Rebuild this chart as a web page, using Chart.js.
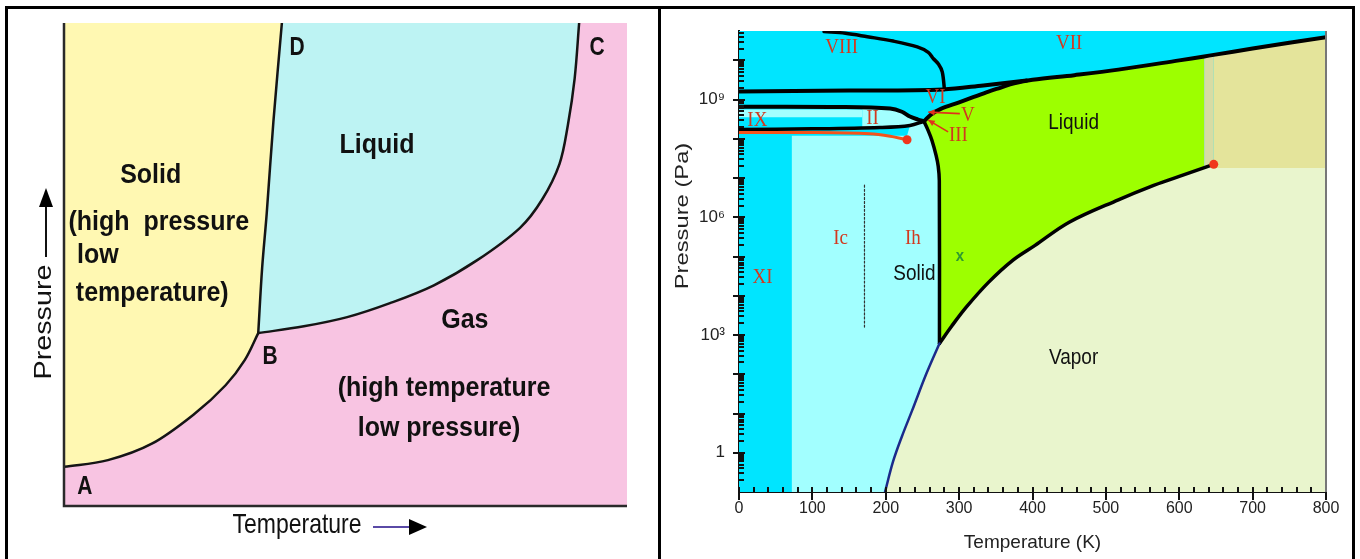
<!DOCTYPE html>
<html>
<head>
<meta charset="utf-8">
<script src="https://cdn.jsdelivr.net/npm/chart.js@4.4.1/dist/chart.umd.min.js"></script>
<style>
  body { margin: 0; background: #fff; }
  #wrap { position: relative; width: 1360px; height: 559px; overflow: hidden; background: #fff; }
  canvas { position: absolute; top: 0; }
  .ln { position: absolute; background: #000; }
</style>
</head>
<body>
<div id="wrap">
  <canvas id="left" width="658" height="559" style="left:0"></canvas>
  <canvas id="right" width="691" height="559" style="left:661px"></canvas>
  <div class="ln" style="left:5px;top:6px;width:1350px;height:3px"></div>
  <div class="ln" style="left:5px;top:6px;width:3px;height:553px"></div>
  <div class="ln" style="left:658px;top:6px;width:3px;height:553px"></div>
  <div class="ln" style="left:1352px;top:6px;width:3px;height:553px"></div>
</div>
<script>
/* ---- panel 1: generic diagram, schematic units 0..100 ---- */
const curveAB = [[0, 8.1], [7.8, 9.5], [15.6, 12.9], [23.3, 19.2], [28.7, 25.0], [32.1, 30.2], [34.5, 35.8]];
const curveBC = [[34.5, 35.8], [42.6, 37.2], [50.3, 39.1], [57.9, 42.0], [65.7, 45.7], [73.4, 50.9], [81.0, 57.6], [84.9, 63.4], [88.0, 70.8], [89.5, 78.9], [90.7, 88.5], [91.5, 100]];
const curveBD = [[34.5, 35.8], [35.2, 49.4], [36.0, 60.5], [37.2, 79.7], [38.7, 100]];
const leftTexts = [
    ['Solid', 15.4, 68.5, 'center'],
    ['(high  pressure', 0.8, 58.8, 'left'],
    ['low', 2.3, 52.0, 'left'],
    ['temperature)', 2.1, 44.1, 'left'],
    ['Liquid', 55.6, 74.7, 'center'],
    ['Gas', 71.2, 38.5, 'center'],
    ['(high temperature', 67.5, 24.4, 'center'],
    ['low pressure)', 66.6, 16.1, 'center']
];
const pointLetters = [['A', 3.7, 3.9], ['B', 36.6, 30.8], ['C', 94.7, 94.8], ['D', 41.4, 94.8]];

/* ---- panel 2: water, T in K, P in Pa ---- */
const xTicks = [0, 100, 200, 300, 400, 500, 600, 700, 800];
const yDecades = [1, 1e1, 1e2, 1e3, 1e4, 1e5, 1e6, 1e7, 1e8, 1e9, 1e10];
const yTickValues = [1, 1e3, 1e6, 1e9];
const yTickLabels = ['1', '10³', '10⁶', '10⁹'];

const sublimation = [[199, 0.1], [210, 0.6], [222, 2.6], [236, 12], [255, 100], [273.2, 611]];
const vaporization = [[273.2, 611], [290, 1.7e3], [310, 5.2e3], [340, 2.2e4], [373, 8e4], [403, 1.9e5], [450, 7.5e5], [517, 2.8e6], [560, 6e6], [600, 1.1e7], [647, 2.24e7]];
const meltingIh = [[273.2, 611], [273, 8.7e6], [271.5, 2.0e7], [268.6, 3.8e7], [263, 9.1e7], [258, 1.6e8], [252, 2.8e8]];
const meltingHigh = [[252, 2.8e8], [262, 4.2e8], [275, 5.8e8], [300, 8.5e8], [320, 1.17e9], [340, 1.6e9], [356, 2.0e9], [375, 2.6e9], [400, 3.2e9], [457, 4.2e9], [517, 5.8e9], [600, 1.0e10], [634, 1.26e10], [647, 1.38e10], [700, 2.0e10], [800, 3.9e10]];
const lineIhII = [[0, 1.74e8], [100, 1.8e8], [192, 1.95e8], [233, 2.2e8], [252, 2.8e8]];
const lineIIVI = [[0, 6.6e8], [140, 6.5e8], [206, 5.9e8], [222, 4.9e8], [233, 3.7e8], [244, 3.1e8], [252, 2.8e8]];
const lineVIVII = [[0, 1.62e9], [150, 1.7e9], [278, 1.82e9], [333, 2.3e9], [392, 3.05e9]];
const lineVIII = [[116, 5.4e10], [145, 4.9e10], [175, 4.0e10], [210, 3.1e10], [243, 2.2e10], [258, 1.6e10], [265, 1.1e10], [272, 8e9], [277, 5.1e9], [280, 1.8e9]];
const lineOrange = [[0, 1.45e8], [100, 1.45e8], [178, 1.35e8], [206, 1.17e8], [229, 9.5e7]];
const lineIcIh = [[171, 6.6e6], [171, 1.6e3]];
const criticalPoint = [647, 2.24e7];
const orangeEnd = [229, 9.5e7];

const regionBase = [[0, 0.05], [800, 0.05], [800, 1e12], [0, 1e12]];
const regionIh = [[72, 0.05], [72, 1.2e8], [229, 1.2e8], [233, 2.2e8], [252, 2.8e8], [280, 2.8e8], [280, 0.05]];
const regionIX = [[0, 5.6e8], [168, 5.6e8], [168, 3.55e8], [0, 3.55e8]];
const regionII = [[168, 6.4e8], [206, 5.9e8], [222, 4.9e8], [233, 3.7e8], [244, 3.1e8], [252, 2.8e8], [233, 2.2e8], [192, 1.95e8], [168, 1.9e8]];

const phaseLabels = [['VIII', 140, 2.2e10], ['VII', 450, 2.75e10], ['IX', 25, 2.95e8], ['II', 182, 3.3e8], ['VI', 268, 1.12e9],
    ['V', 312, 4.0e8], ['III', 299, 1.2e8], ['Ic', 138.5, 2.95e5], ['Ih', 237, 2.95e5], ['XI', 32, 3.0e4]];
const stateLabels = [['Liquid', 456, 2.6e8], ['Solid', 239, 3.7e4], ['Vapor', 456, 263]];
const greenMark = ['x', 301, 1e5];
const redArrows = [[[301, 4.4e8], [258, 4.8e8]], [[285, 1.5e8], [258, 3.0e8]]];

Chart.defaults.font.family = "'Liberation Sans', Arial, sans-serif";

const pts = a => a.map(p => ({x: p[0], y: p[1]}));
function area(a, color, order) {
    return {data: pts(a), backgroundColor: color, borderColor: 'rgba(0,0,0,0)', borderWidth: 0, fill: 'shape', pointRadius: 0, order: order};
}
function curve(a, color, width, order, dash) {
    return {data: pts(a), borderColor: color, borderWidth: width, fill: false, pointRadius: 0, order: order, tension: 0.35,
        borderDash: dash || [], borderCapStyle: 'round', borderJoinStyle: 'round'};
}
function dot(p, color) {
    return {data: pts([p]), showLine: false, pointRadius: 4.5, pointBackgroundColor: color, pointBorderWidth: 0, order: 0};
}

// text with the tall look of the picture
function tallText(ctx, txt, px, py, font, color, align, sy, rot) {
    ctx.save();
    ctx.translate(px, py);
    if (rot) { ctx.rotate(rot); ctx.scale(sy, 1); } else { ctx.scale(1, sy); }
    ctx.font = font;
    ctx.fillStyle = color;
    ctx.textAlign = align;
    ctx.textBaseline = 'middle';
    ctx.fillText(txt, 0, 0);
    ctx.restore();
}

/* ---------- left chart ---------- */
const yellowArea = [[0, 100]].concat(curveAB, curveBD.slice(1));
const cyanArea = curveBD.concat(curveBC.slice().reverse().slice(0, -1));

const leftDeco = {
    id: 'leftDeco',
    afterDatasetsDraw(chart) {
        const {ctx, chartArea: a, scales: {x, y}} = chart;
        ctx.save();
        ctx.strokeStyle = '#2a2a2a';
        ctx.lineWidth = 2.5;
        ctx.beginPath();
        ctx.moveTo(a.left, a.top); ctx.lineTo(a.left, a.bottom); ctx.lineTo(a.right, a.bottom);
        ctx.stroke();
        leftTexts.forEach(t => tallText(ctx, t[0], x.getPixelForValue(t[1]), y.getPixelForValue(t[2]), 'bold 25px "Liberation Sans", Arial', '#111', t[3], 1.12));
        pointLetters.forEach(t => tallText(ctx, t[0], x.getPixelForValue(t[1]), y.getPixelForValue(t[2]), 'bold 21px "Liberation Sans", Arial', '#111', 'center', 1.2));
        // axis names with arrows
        tallText(ctx, 'Pressure', 45, 322, '23px "Liberation Sans", Arial', '#111', 'center', 1.25, -Math.PI / 2);
        ctx.lineWidth = 2;
        ctx.strokeStyle = '#111';
        ctx.beginPath(); ctx.moveTo(46, 257); ctx.lineTo(46, 204); ctx.stroke();
        ctx.fillStyle = '#000';
        ctx.beginPath(); ctx.moveTo(46, 188); ctx.lineTo(39, 207); ctx.lineTo(53, 207); ctx.closePath(); ctx.fill();
        tallText(ctx, 'Temperature', 297, 525, '23px "Liberation Sans", Arial', '#111', 'center', 1.2);
        ctx.strokeStyle = '#5a4aa6';
        ctx.beginPath(); ctx.moveTo(373, 527); ctx.lineTo(411, 527); ctx.stroke();
        ctx.beginPath(); ctx.moveTo(427, 527); ctx.lineTo(409, 519); ctx.lineTo(409, 535); ctx.closePath(); ctx.fill();
        ctx.restore();
    }
};

new Chart(document.getElementById('left').getContext('2d'), {
    type: 'line',
    data: {
        datasets: [
            curve(curveAB, '#151515', 2.5, 1),
            curve(curveBC, '#151515', 2.5, 1),
            curve(curveBD, '#151515', 2.5, 1),
            area(cyanArea, '#bdf3f3', 5),
            area(yellowArea, '#fff8b2', 6),
            area([[0, 0], [100, 0], [100, 100], [0, 100]], '#f8c4e2', 7)
        ]
    },
    options: {
        responsive: false,
        animation: false,
        events: [],
        layout: {padding: {left: 64, top: 23, right: 31, bottom: 53}},
        plugins: {legend: {display: false}, tooltip: {enabled: false}},
        scales: {
            x: {type: 'linear', display: false, min: 0, max: 100},
            y: {type: 'linear', display: false, min: 0, max: 100}
        }
    },
    plugins: [leftDeco]
});

/* ---------- right chart ---------- */
const liquidArea = meltingIh.concat(meltingHigh.filter(p => p[0] > 252 && p[0] <= 634), [[634, 100], [273.2, 100]]);
const bandArea = [[634, 1e3]].concat(meltingHigh.filter(p => p[0] >= 634 && p[0] <= 647), [[647, 1e3]]);
const superArea = meltingHigh.filter(p => p[0] >= 647).concat([[800, 1e3], [647, 1e3]]);
const vaporArea = sublimation.concat(vaporization.slice(1), [[650, 1.8e7], [800, 1.8e7], [800, 0.05], [199, 0.05]]);

const rightDeco = {
    id: 'rightDeco',
    afterDraw(chart) {
        const {ctx, chartArea: a, scales: {x, y}} = chart;
        ctx.save();
        ctx.strokeStyle = '#111';
        ctx.lineWidth = 2;
        ctx.beginPath();
        for (let e = -1; e <= 10; e++) {
            for (let m = 1; m <= 9; m++) {
                const v = m * Math.pow(10, e);
                if (v <= y.min || v > y.max) continue;
                const py = Math.round(y.getPixelForValue(v));
                ctx.moveTo(a.left - (m === 1 ? 6 : 0), py);
                ctx.lineTo(a.left + (m === 1 ? 6 : 5), py);
            }
        }
        for (let k = 0; k <= 800; k += 20) {
            const px = Math.round(x.getPixelForValue(k));
            ctx.moveTo(px, a.bottom - 5);
            ctx.lineTo(px, a.bottom + (k % 100 === 0 ? 8 : 0));
        }
        ctx.stroke();
        ctx.strokeStyle = '#777';
        ctx.beginPath(); ctx.moveTo(a.right, a.top); ctx.lineTo(a.right, a.bottom); ctx.stroke();

        // red arrows
        ctx.strokeStyle = '#e0321c';
        ctx.fillStyle = '#e0321c';
        ctx.lineWidth = 1.6;
        redArrows.forEach(r => {
            const x0 = x.getPixelForValue(r[0][0]), y0 = y.getPixelForValue(r[0][1]);
            const x1 = x.getPixelForValue(r[1][0]), y1 = y.getPixelForValue(r[1][1]);
            const ang = Math.atan2(y1 - y0, x1 - x0);
            ctx.beginPath(); ctx.moveTo(x0, y0); ctx.lineTo(x1, y1); ctx.stroke();
            ctx.beginPath();
            ctx.moveTo(x1, y1);
            ctx.lineTo(x1 - 7 * Math.cos(ang - 0.45), y1 - 7 * Math.sin(ang - 0.45));
            ctx.lineTo(x1 - 7 * Math.cos(ang + 0.45), y1 - 7 * Math.sin(ang + 0.45));
            ctx.closePath(); ctx.fill();
        });

        phaseLabels.forEach(t => tallText(ctx, t[0], x.getPixelForValue(t[1]), y.getPixelForValue(t[2]), '19px "Liberation Serif", "Times New Roman", serif', '#d2391f', 'center', 1.15));
        stateLabels.forEach(t => tallText(ctx, t[0], x.getPixelForValue(t[1]), y.getPixelForValue(t[2]), '19px "Liberation Sans", Arial', '#111', 'center', 1.15));
        tallText(ctx, greenMark[0], x.getPixelForValue(greenMark[1]), y.getPixelForValue(greenMark[2]), 'bold 15px "Liberation Sans", Arial', '#2f9a30', 'center', 1.1);
        tallText(ctx, 'Pressure (Pa)', 22, 216, '19px "Liberation Sans", Arial', '#222', 'center', 1.25, -Math.PI / 2);
        ctx.restore();
    }
};

const gridColor = 'rgba(150,185,120,0.35)';
new Chart(document.getElementById('right').getContext('2d'), {
    type: 'line',
    data: {
        datasets: [
            dot(criticalPoint, '#f0361c'),
            dot(orangeEnd, '#f0361c'),
            curve(lineOrange, '#f4531c', 3, 2),
            curve(lineIcIh, '#333', 1.2, 2, [2, 2]),
            curve(sublimation, '#1b2a8a', 2.5, 3),
            curve(vaporization, '#000', 3.5, 3),
            curve(meltingIh, '#000', 3.5, 3),
            curve(meltingHigh, '#000', 4, 3),
            curve(lineIhII, '#000', 3.5, 3),
            curve(lineIIVI, '#000', 4, 3),
            curve(lineVIVII, '#000', 4, 3),
            curve(lineVIII, '#000', 3.5, 3),
            area(vaporArea, '#e9f5cd', 10),
            area(superArea, '#e4e49b', 11),
            area(bandArea, '#d7dca4', 12),
            area(liquidArea, '#9dff00', 13),
            area(regionII, '#a2ffff', 14),
            area(regionIX, '#a2ffff', 15),
            area(regionIh, '#a2ffff', 16),
            area(regionBase, '#00e5ff', 17)
        ]
    },
    options: {
        responsive: false,
        animation: false,
        events: [],
        layout: {padding: {left: 0, top: 31, right: 26, bottom: 0}},
        plugins: {legend: {display: false}, tooltip: {enabled: false}},
        scales: {
            x: {
                type: 'linear', min: 0, max: 800, z: 1,
                afterFit: s => { s.height = 67; },
                afterBuildTicks: s => { s.ticks = xTicks.map(v => ({value: v})); },
                ticks: {color: '#222', padding: 7, maxRotation: 0, autoSkip: false, font: {size: 16}},
                grid: {color: gridColor, lineWidth: 1.5, drawTicks: false},
                border: {display: true, color: '#111', width: 2},
                title: {display: true, text: 'Temperature (K)', color: '#222', font: {size: 19}, padding: {top: 0, bottom: 5}}
            },
            y: {
                type: 'logarithmic', min: 0.1, max: 5.6e10, z: 1,
                afterFit: s => { s.width = 78; },
                afterBuildTicks: s => { s.ticks = yDecades.map(v => ({value: v})); },
                ticks: {
                    color: '#222', padding: 14, autoSkip: false, font: {size: 17},
                    callback: v => {
                        const i = yTickValues.indexOf(v);
                        return i >= 0 ? yTickLabels[i] : '';
                    }
                },
                grid: {color: gridColor, lineWidth: 1.5, drawTicks: false},
                border: {display: true, color: '#111', width: 2}
            }
        }
    },
    plugins: [rightDeco]
});
</script>
</body>
</html>
